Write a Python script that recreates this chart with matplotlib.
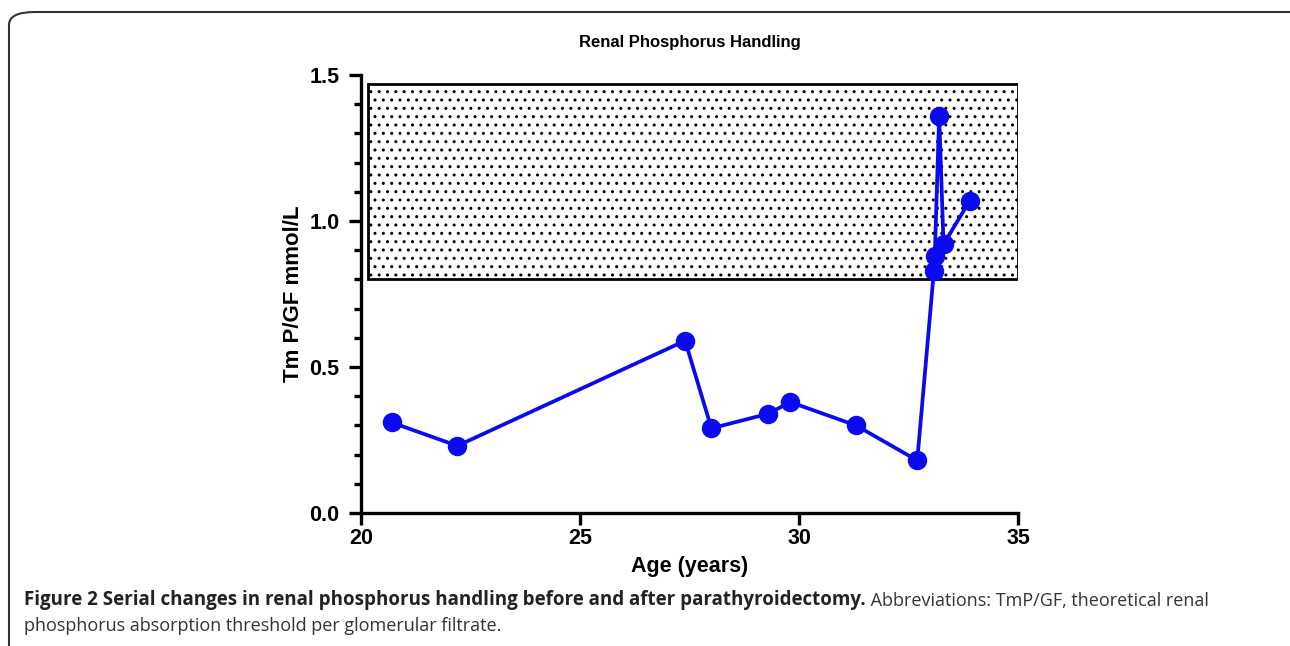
import matplotlib
matplotlib.use("Agg")
import matplotlib.pyplot as plt
from matplotlib.patches import FancyBboxPatch, Rectangle
from matplotlib.ticker import MultipleLocator

# data
age = [20.7, 22.2, 27.4, 28.0, 29.3, 29.8, 31.3, 32.7, 33.08, 33.1, 33.2, 33.3, 33.9]
tmp_gf = [0.31, 0.23, 0.59, 0.29, 0.34, 0.38, 0.30, 0.18, 0.83, 0.88, 1.36, 0.92, 1.07]
normal_lo, normal_hi = 0.80, 1.47
normal_x0, normal_x1 = 20.15, 35.0

plt.rcParams['font.family'] = 'Liberation Sans'
plt.rcParams['font.weight'] = 'bold'
plt.rcParams['hatch.linewidth'] = 1.0

W, H = 1290, 646
fig = plt.figure(figsize=(W / 100, H / 100), dpi=100)
ax = fig.add_axes([361 / W, 1 - 513 / H, (1018 - 361) / W, (513 - 75) / H])

ax.add_patch(Rectangle((normal_x0, normal_lo), normal_x1 - normal_x0, normal_hi - normal_lo,
                       facecolor='white', edgecolor='black', hatch='..', lw=2.0, zorder=1))

blue = '#0a0af0'
ax.plot(age, tmp_gf, color=blue, lw=2.7, marker='o', ms=13, zorder=3, clip_on=False)

ax.set_xlim(20, 35)
ax.set_ylim(0, 1.5)
ax.xaxis.set_major_locator(MultipleLocator(5))
ax.yaxis.set_major_locator(MultipleLocator(0.5))
ax.yaxis.set_minor_locator(MultipleLocator(0.1))
ax.yaxis.set_major_formatter(lambda v, p: f'{v:.1f}')

for s in ['top', 'right']:
    ax.spines[s].set_visible(False)
for s in ['left', 'bottom']:
    ax.spines[s].set_linewidth(2.4)
ax.tick_params(which='major', direction='out', length=8.5, width=2.4, labelsize=15.5)
ax.tick_params(axis='y', which='major', pad=7)
ax.tick_params(axis='x', which='major', pad=2)
ax.tick_params(which='minor', direction='out', length=5, width=2.4)

ax.set_xlabel('Age (years)', fontsize=15.5, fontweight='bold', labelpad=5)
ax.set_ylabel('Tm P/GF mmol/L', fontsize=16, fontweight='bold', labelpad=4)
ax.set_title('Renal Phosphorus Handling', fontsize=12, fontweight='bold', pad=20)

# rounded frame around the figure panel (open at the bottom and right)
frame = FancyBboxPatch((9 / W, -0.2), 1.2, 1.2 - 12 / H,
                       boxstyle='round,pad=0,rounding_size=0.02', transform=fig.transFigure,
                       fill=False, edgecolor='#333333', lw=1.5)
fig.add_artist(frame)

# caption
cap1 = fig.text(24 / W, 1 - 600 / H, 'Figure 2 Serial changes in renal phosphorus handling before and after parathyroidectomy.',
                fontfamily='Open Sans', fontweight='bold', fontsize=13.5, color='#222222', va='center')
ax.annotate(' Abbreviations: TmP/GF, theoretical renal', xy=(1, 0), xycoords=cap1,
            fontfamily='Open Sans', fontweight='normal', fontsize=13, color='#333333',
            va='bottom', ha='left', annotation_clip=False)
fig.text(24 / W, 1 - 626 / H, 'phosphorus absorption threshold per glomerular filtrate.',
         fontfamily='Open Sans', fontweight='normal', fontsize=13, color='#333333', va='center')

fig.savefig('out.png', dpi=100)
